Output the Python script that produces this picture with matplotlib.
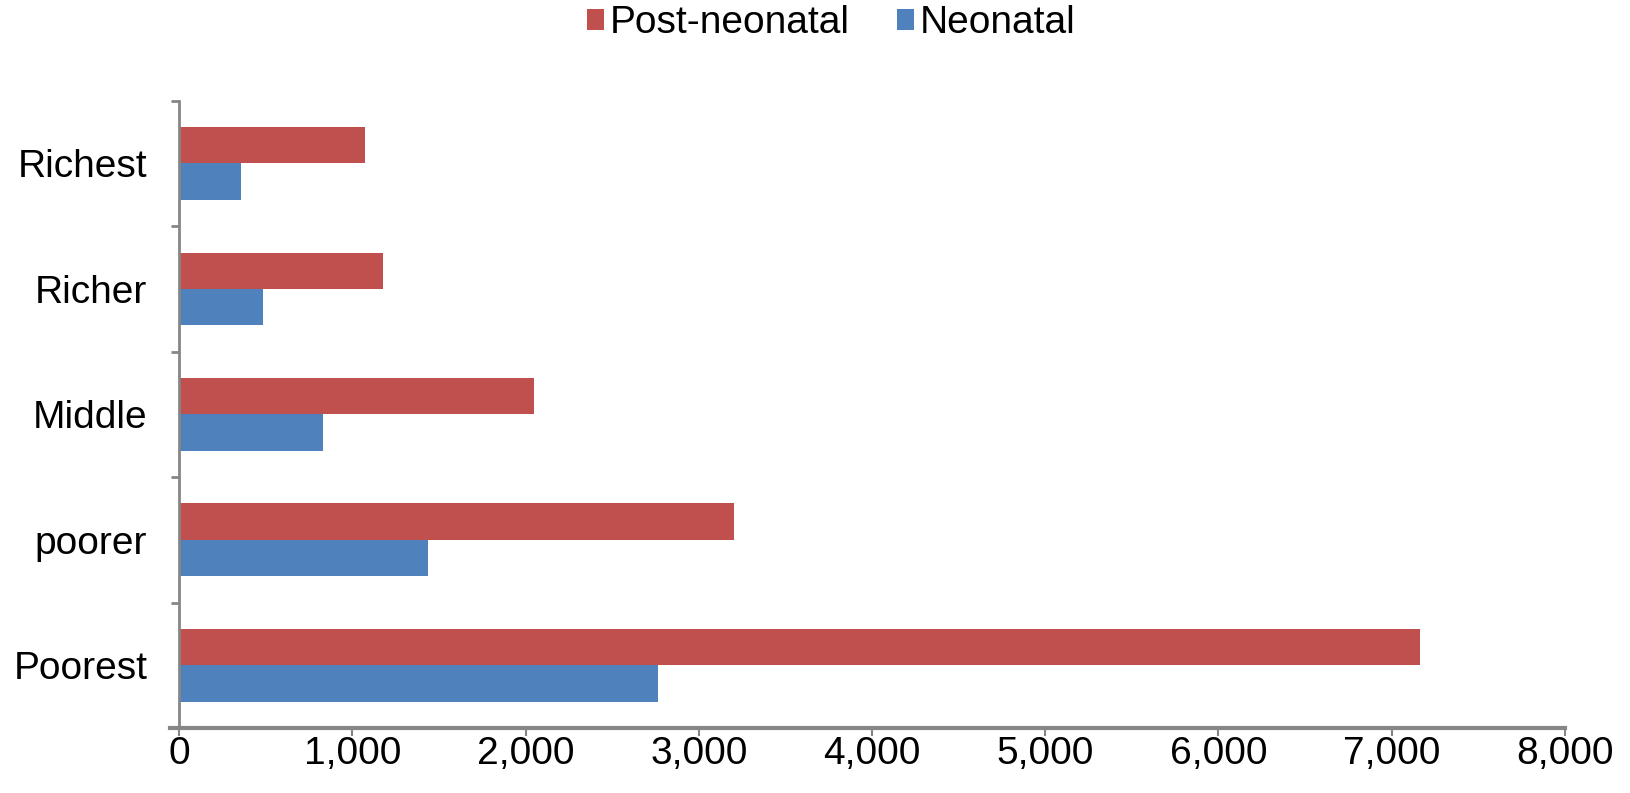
import matplotlib
matplotlib.use("Agg")
import matplotlib.pyplot as plt
from matplotlib.ticker import FuncFormatter, FixedLocator
import numpy as np

# Wealth quintiles, bottom to top
categories = ["Poorest", "poorer", "Middle", "Richer", "Richest"]
post_neonatal = [7163, 3203, 2049, 1178, 1074]
neonatal = [2763, 1437, 832, 485, 358]
x_ticks = [0, 1000, 2000, 3000, 4000, 5000, 6000, 7000, 8000]

RED = "#C0504D"
BLUE = "#4F81BD"
AXIS_GREY = "#868686"

plt.rcParams["font.family"] = ["Liberation Sans", "DejaVu Sans"]

fig = plt.figure(figsize=(16.30, 7.93), dpi=100)
ax = fig.add_axes([0.110, 0.082, 0.850, 0.791])

y = np.arange(len(categories))
h = 0.29
ax.barh(y + h / 2, post_neonatal, height=h, color=RED, label="Post-neonatal")
ax.barh(y - h / 2, neonatal, height=h, color=BLUE, label="Neonatal")

ax.set_xlim(0, 8000)
ax.set_ylim(-0.5, len(categories) - 0.5)
ax.set_xticks(x_ticks)
ax.xaxis.set_major_formatter(FuncFormatter(lambda v, p: f"{int(v):,}"))

# Category labels centered, tick marks at category boundaries
ax.set_yticks(y)
ax.set_yticklabels(categories)
ax.yaxis.set_minor_locator(FixedLocator(np.arange(-0.5, len(categories), 1.0)))
ax.tick_params(axis="y", which="major", length=0, pad=23, labelsize=28)
ax.tick_params(axis="y", which="minor", length=6, width=2, color=AXIS_GREY)
ax.tick_params(axis="x", which="major", length=6, width=1.5, color=AXIS_GREY,
               pad=0, labelsize=28)

for side in ("top", "right"):
    ax.spines[side].set_visible(False)
ax.spines["left"].set_color(AXIS_GREY)
ax.spines["left"].set_linewidth(2)
ax.spines["bottom"].set_color(AXIS_GREY)
ax.spines["bottom"].set_linewidth(3)
ax.spines["bottom"].set_bounds(-55, 8000)

ax.legend(loc="center", bbox_to_anchor=(0.51, 0.971), bbox_transform=fig.transFigure,
          ncol=2, frameon=False, fontsize=28, handlelength=0.45, handleheight=0.45,
          handletextpad=0.15, columnspacing=1.2)

fig.savefig("out.png", dpi=100)
